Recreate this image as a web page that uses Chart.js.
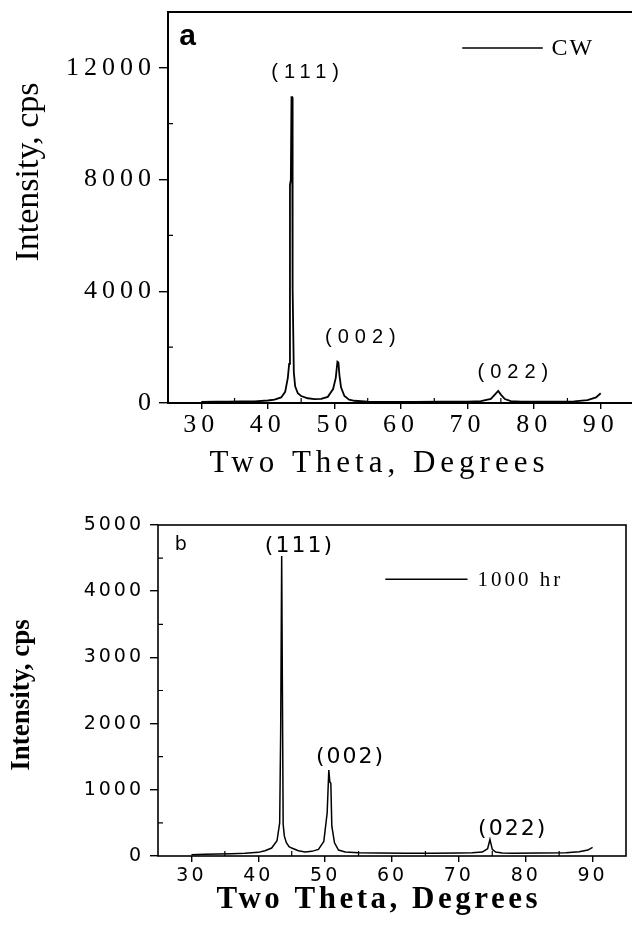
<!DOCTYPE html>
<html>
<head>
<meta charset="utf-8">
<script src="https://cdn.jsdelivr.net/npm/chart.js@4.4.1/dist/chart.umd.min.js"></script>
<style>
  body { margin: 0; overflow: hidden; background: #fff; }
  canvas { display: block; }
</style>
</head>
<body>
<canvas id="chartA" width="640" height="490"></canvas>
<canvas id="chartB" width="640" height="436"></canvas>
<script>
// panel a: CW sample
const thetaCW = [30, 32, 34, 36, 38, 40, 41, 42, 42.6, 43.0, 43.2, 43.32, 43.45, 43.55, 43.65, 43.72, 43.9, 44.1, 44.5, 45, 46, 47, 48, 49, 49.8, 50.2, 50.45, 50.6, 50.75, 51.0, 51.5, 52.2, 53, 55, 58, 62, 66, 70, 72, 73.5, 74.2, 74.6, 75.0, 75.6, 76.5, 78, 82, 86, 88, 89.3, 90];
const intensityCW = [40, 45, 50, 55, 60, 90, 120, 200, 400, 900, 1400, 7800, 8000, 10950, 10950, 4100, 1100, 600, 350, 250, 170, 140, 150, 220, 500, 900, 1480, 1450, 1000, 550, 250, 120, 80, 50, 40, 40, 45, 50, 70, 150, 330, 430, 300, 140, 70, 50, 50, 60, 100, 200, 350];

// panel b: 1000 hr sample
const theta1000 = [30, 32, 34, 36, 38, 40, 41, 42, 42.8, 43.2, 43.35, 43.5, 43.6, 43.68, 43.72, 43.9, 44.2, 44.6, 45, 46, 47, 48, 49, 49.8, 50.3, 50.55, 50.7, 50.85, 51.0, 51.4, 52, 53, 55, 58, 62, 66, 70, 72, 73.5, 74.3, 74.65, 75.0, 75.5, 76.5, 78, 82, 86, 88, 89.3, 90];
const intensity1000 = [20, 25, 30, 35, 40, 55, 80, 120, 230, 500, 1900, 4530, 2650, 2650, 480, 300, 200, 140, 120, 80, 60, 70, 100, 220, 650, 1300, 1120, 1100, 450, 200, 90, 60, 50, 45, 40, 40, 45, 50, 60, 110, 250, 100, 60, 45, 40, 45, 50, 65, 90, 130];

const xTickLabels = [30, 40, 50, 60, 70, 80, 90];
const xMinorTicks = [35, 45, 55, 65, 75, 85];
const yTicksA = [0, 4000, 8000, 12000];
const yMinorA = [2000, 6000, 10000];
const yTicksB = [0, 1000, 2000, 3000, 4000, 5000];
const yMinorB = [500, 1500, 2500, 3500, 4500];
const peakLabels = ['(111)', '(002)', '(022)'];

function toPoints(xs, ys) {
    return xs.map((x, i) => ({ x: x, y: ys[i] }));
}

function fontStr(f) {
    return `${f.weight || 'normal'} ${f.size}px "${f.family}"`;
}

// draws the frame, minor ticks, peak labels, legend, panel letter and axis titles
const paperPlugin = {
    id: 'paper',
    beforeDraw(chart, args, opts) {
        chart.ctx.letterSpacing = opts.tickSpacing;
    },
    afterDraw(chart, args, opts) {
        const ctx = chart.ctx;
        const area = chart.chartArea;
        const xs = chart.scales.x;
        const ys = chart.scales.y;
        ctx.save();
        ctx.letterSpacing = '0px';
        ctx.strokeStyle = '#000';
        ctx.fillStyle = '#000';

        ctx.lineWidth = opts.boxWidth;
        ctx.strokeRect(area.left, area.top, area.right - area.left, area.bottom - area.top);

        ctx.lineWidth = 1.2;
        ctx.beginPath();
        opts.minorX.forEach(v => {
            const px = xs.getPixelForValue(v);
            ctx.moveTo(px, area.bottom);
            ctx.lineTo(px, area.bottom - 5);
        });
        opts.minorY.forEach(v => {
            const py = ys.getPixelForValue(v);
            ctx.moveTo(area.left, py);
            ctx.lineTo(area.left + 5, py);
        });
        ctx.stroke();

        // peak labels
        ctx.font = fontStr(opts.peakFont);
        ctx.letterSpacing = opts.peakFont.spacing + 'px';
        ctx.textAlign = 'center';
        ctx.textBaseline = 'middle';
        opts.peaks.forEach((p, i) => {
            ctx.fillText(peakLabels[i], xs.getPixelForValue(p[0]) + opts.peakFont.spacing / 2, ys.getPixelForValue(p[1]));
        });

        // legend
        const lg = opts.legend;
        const ly = ys.getPixelForValue(lg.level);
        ctx.lineWidth = 1.6;
        ctx.beginPath();
        ctx.moveTo(xs.getPixelForValue(lg.from), ly);
        ctx.lineTo(xs.getPixelForValue(lg.to), ly);
        ctx.stroke();
        ctx.font = fontStr(lg.font);
        ctx.letterSpacing = lg.font.spacing + 'px';
        ctx.textAlign = 'left';
        ctx.fillText(lg.text, xs.getPixelForValue(lg.textAt), ly + 1);

        // panel letter
        const pl = opts.panel;
        ctx.font = fontStr(pl.font);
        ctx.letterSpacing = '0px';
        ctx.fillText(pl.text, xs.getPixelForValue(pl.at[0]), ys.getPixelForValue(pl.at[1]));

        // axis titles
        const xt = opts.xTitle;
        ctx.font = fontStr(xt.font);
        ctx.letterSpacing = xt.font.spacing + 'px';
        ctx.textAlign = 'center';
        ctx.fillText(xt.text, xt.pos[0] + xt.font.spacing / 2, xt.pos[1]);

        const yt = opts.yTitle;
        ctx.font = fontStr(yt.font);
        ctx.letterSpacing = yt.font.spacing + 'px';
        ctx.translate(yt.pos[0], yt.pos[1]);
        ctx.rotate(-Math.PI / 2);
        ctx.fillText(yt.text, yt.font.spacing / 2, 0);
        ctx.restore();
        ctx.letterSpacing = '0px';
    }
};

function makeChart(id, cfg) {
    return new Chart(document.getElementById(id), {
        type: 'line',
        data: {
            datasets: [{
                data: cfg.points,
                borderColor: '#000',
                borderWidth: cfg.lineWidth,
                pointRadius: 0,
                tension: 0,
                fill: false
            }]
        },
        options: {
            responsive: false,
            animation: false,
            events: [],
            layout: { padding: cfg.padding },
            plugins: {
                legend: { display: false },
                tooltip: { enabled: false },
                paper: cfg.paper
            },
            scales: {
                x: {
                    type: 'linear',
                    min: 25,
                    max: 95,
                    afterBuildTicks: s => { s.ticks = xTickLabels.map(v => ({ value: v })); },
                    afterFit: s => {
                        s.height = cfg.xHeight;
                        s.paddingLeft = 0;
                        s.paddingRight = 0;
                    },
                    border: { display: false },
                    grid: { display: true, drawOnChartArea: false, drawTicks: true, tickLength: 6, color: '#000', lineWidth: 1.4 },
                    ticks: { color: '#000', font: cfg.tickFont, padding: cfg.xTickPad, maxRotation: 0, autoSkip: false, callback: v => String(v) }
                },
                y: {
                    type: 'linear',
                    min: 0,
                    max: cfg.yMax,
                    afterBuildTicks: s => { s.ticks = cfg.yTicks.map(v => ({ value: v })); },
                    afterFit: s => {
                        s.width = cfg.yWidth;
                        s.paddingTop = 0;
                        s.paddingBottom = 0;
                    },
                    border: { display: false },
                    grid: { display: true, drawOnChartArea: false, drawTicks: true, tickLength: cfg.yTickLen, color: '#000', lineWidth: 1.4 },
                    ticks: { color: '#000', font: cfg.tickFont, padding: cfg.yTickPad, autoSkip: false, callback: v => String(v) }
                }
            }
        },
        plugins: [paperPlugin]
    });
}

makeChart('chartA', {
    points: toPoints(thetaCW, intensityCW),
    lineWidth: 1.8,
    padding: { left: 0, right: 6, top: 12, bottom: 0 },
    xHeight: 87,
    yWidth: 168,
    yMax: 14000,
    yTicks: yTicksA,
    yTickLen: 9,
    xTickPad: 1,
    yTickPad: 3,
    tickFont: { family: 'Liberation Serif', size: 26 },
    paper: {
        tickSpacing: '5px',
        boxWidth: 2,
        minorX: xMinorTicks,
        minorY: yMinorA,
        peakFont: { family: 'Liberation Sans', size: 20, spacing: 6 },
        peaks: [[45.6, 11850], [53.9, 2360], [76.8, 1110]],
        legend: { text: 'CW', from: 69.2, to: 81.3, level: 12710, textAt: 82.6, font: { family: 'Liberation Serif', size: 24, spacing: 2 } },
        panel: { text: 'a', at: [26.7, 13100], font: { family: 'Liberation Sans', size: 30, weight: 'bold' } },
        xTitle: { text: 'Two Theta, Degrees', pos: [377, 464], font: { family: 'Liberation Serif', size: 31, spacing: 5 } },
        yTitle: { text: 'Intensity, cps', pos: [29, 172], font: { family: 'Liberation Serif', size: 34, spacing: 0 } }
    }
});

makeChart('chartB', {
    points: toPoints(theta1000, intensity1000),
    lineWidth: 1.5,
    padding: { left: 0, right: 14, top: 35, bottom: 0 },
    xHeight: 70,
    yWidth: 158,
    yMax: 5000,
    yTicks: yTicksB,
    yTickLen: 8,
    xTickPad: 3,
    yTickPad: 6,
    tickFont: { family: 'DejaVu Sans', size: 19 },
    paper: {
        tickSpacing: '3px',
        boxWidth: 1.6,
        minorX: xMinorTicks,
        minorY: yMinorB,
        peakFont: { family: 'DejaVu Sans', size: 22, spacing: 2 },
        peaks: [[46.0, 4680], [53.65, 1495], [77.9, 408]],
        legend: { text: '1000 hr', from: 59.0, to: 71.3, level: 4180, textAt: 72.8, font: { family: 'Liberation Serif', size: 21, spacing: 3 } },
        panel: { text: 'b', at: [27.5, 4700], font: { family: 'DejaVu Sans', size: 19 } },
        xTitle: { text: 'Two Theta, Degrees', pos: [377, 410], font: { family: 'Liberation Serif', size: 31, weight: 'bold', spacing: 3.5 } },
        yTitle: { text: 'Intensity, cps', pos: [22, 205], font: { family: 'Liberation Serif', size: 27, weight: 'bold', spacing: 0 } }
    }
});
</script>
</body>
</html>
